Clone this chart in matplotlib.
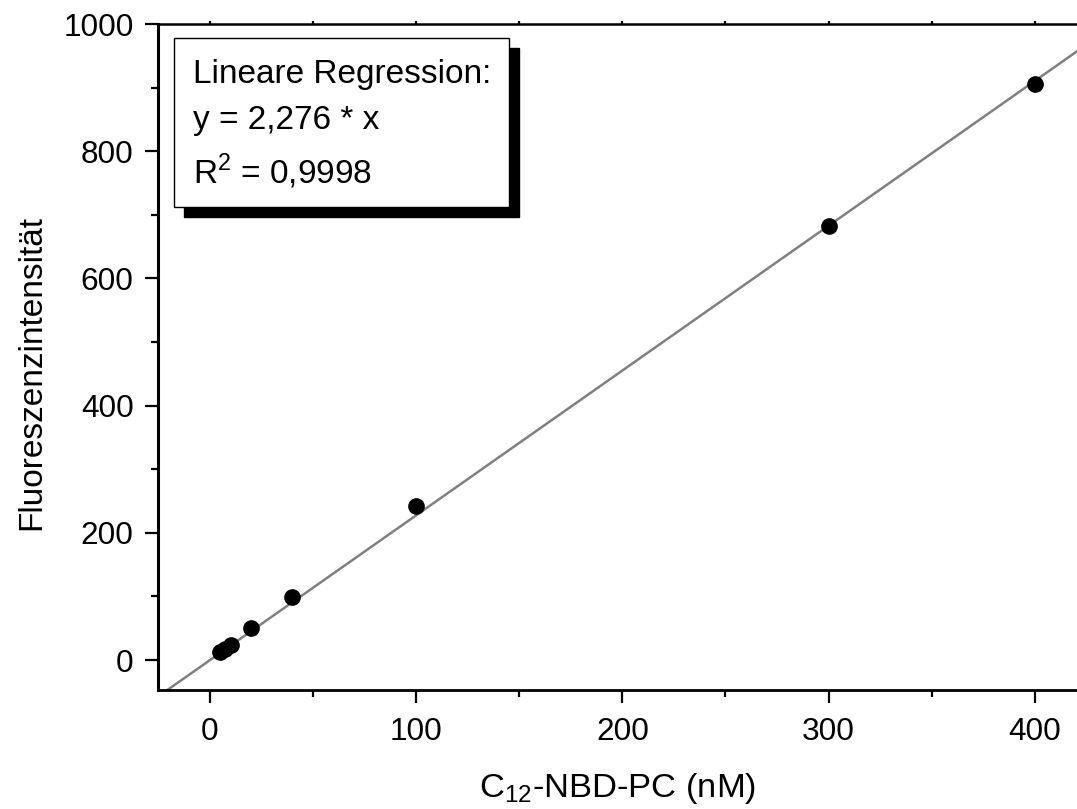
import matplotlib
matplotlib.use('Agg')
import matplotlib.pyplot as plt
import numpy as np
from matplotlib.patches import Rectangle
from matplotlib.ticker import MultipleLocator

# concentration (nM) and measured fluorescence
conc = [5, 7.5, 10, 20, 40, 100, 300, 400]
fluor = [12, 17, 24, 50, 99, 242, 683, 906]
slope = 2.276

plt.rcParams['font.family'] = ['Liberation Sans', 'DejaVu Sans']
plt.rcParams['mathtext.fontset'] = 'custom'
plt.rcParams['mathtext.rm'] = 'Liberation Sans'
fs_tick = 22.7
fs_lab = 24

fig = plt.figure(figsize=(10.77, 8.09), dpi=100)
ax = fig.add_axes([158 / 1077, 1 - 690 / 809, 1 - 158 / 1077, (690 - 24) / 809])

# fit line through origin
xl = np.array([-30, 430])
ax.plot(xl, slope * xl, color='#808080', lw=1.8, zorder=2)
ax.plot(conc, fluor, 'o', color='black', ms=11, zorder=3)

ax.set_xlim(-25.2, 420.5)
ax.set_ylim(-47, 1000)
ax.xaxis.set_major_locator(MultipleLocator(100))
ax.xaxis.set_minor_locator(MultipleLocator(50))
ax.yaxis.set_major_locator(MultipleLocator(200))
ax.yaxis.set_minor_locator(MultipleLocator(100))

ax.spines['right'].set_visible(False)
ax.spines['left'].set_linewidth(2.2)
ax.spines['bottom'].set_linewidth(2.0)
ax.spines['top'].set_linewidth(1.8)

ax.tick_params(which='major', direction='out', length=9.5, width=1.6, labelsize=fs_tick, pad=8)
ax.tick_params(which='minor', direction='out', length=5, width=1.6)
ax.tick_params(axis='x', which='both', top=True)
ax.tick_params(axis='x', which='major', pad=10)

ax.set_xlabel(r'C$_\mathregular{12}$-NBD-PC (nM)', fontsize=24.8, labelpad=17)
ax.set_ylabel('Fluoreszenzintensität', fontsize=fs_lab)
ax.yaxis.set_label_coords(-0.121, 0.476)

# top ticks drawn small
for t in ax.xaxis.get_major_ticks() + ax.xaxis.get_minor_ticks():
    t.tick2line.set_markersize(2)

# text box with black shadow
W, H = 1077, 809
bx0, by0, bx1, by1 = 174, 38, 509, 207
off = 10
fig.patches.append(Rectangle(((bx0 + off) / W, 1 - (by1 + off) / H), (bx1 - bx0) / W, (by1 - by0) / H,
                             transform=fig.transFigure, facecolor='black', edgecolor='black', zorder=5))
fig.patches.append(Rectangle((bx0 / W, 1 - by1 / H), (bx1 - bx0) / W, (by1 - by0) / H,
                             transform=fig.transFigure, facecolor='white', edgecolor='black', lw=1, zorder=6))

lines = ['Lineare Regression:', 'y = 2,276 * x', r'R$^\mathregular{2}$ = 0,9998']
baselines = [83, 129, 184]
for s, b in zip(lines, baselines):
    fig.text(193 / W, 1 - b / H, s, fontsize=fs_lab, va='baseline', ha='left', zorder=7)

fig.savefig('out.png', dpi=100)
